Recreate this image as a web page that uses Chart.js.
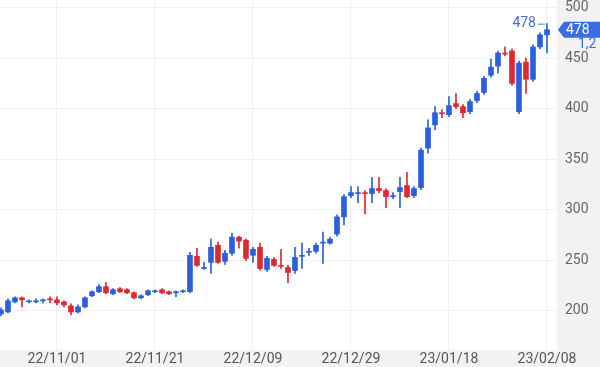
<!DOCTYPE html>
<html>
<head>
<meta charset="utf-8">
<script src="https://cdn.jsdelivr.net/npm/chart.js@4.4.1/dist/chart.umd.min.js"></script>
<style>
  html, body { margin: 0; padding: 0; background: #fff; }
</style>
</head>
<body>
<canvas id="chart" width="600" height="367"></canvas>
<script>
// daily candles (oldest first)
const openP  = [197,199,209,213,209,209,210,212,211,209,205,199,204,215,219,224,217,222,221,218,
                213,216,219,221,219,218,219,219,254,242,248,265,249,257,273,270,255,263,241,251,
                245,243,240,254,258,259,267,267,276,293,314,316,317,316,321,319,313,318,324,314,
                322,361,384,396,394,405,402,397,408,416,433,442,455,457,397,446,429,461,473];
const highP  = [203,212,214,214,211,212,212,214,214,210,207,206,214,220,226,228,222,223,222,219,
                216,221,221,222,220,220,221,258,262,248,271,268,260,277,274,271,263,267,254,253,
                261,245,263,267,262,267,278,273,295,315,323,323,319,332,332,321,317,332,337,323,
                361,389,402,399,412,415,404,409,417,432,449,457,461,459,447,450,463,475,484];
const lowP   = [195,198,208,204,208,208,208,208,206,204,196,198,203,214,218,217,216,218,217,212,
                212,215,218,217,216,214,218,218,244,241,237,247,246,255,262,250,248,240,239,244,
                242,228,237,242,255,257,247,266,274,285,312,307,296,307,317,302,311,302,312,312,
                320,356,379,391,392,400,391,395,406,414,431,435,452,423,395,415,427,459,455];
const closeP = [201,210,213,211,210,210,211,211,208,206,199,204,213,219,224,218,221,219,218,213,
                215,220,220,218,217,219,220,255,245,243,263,248,257,273,269,252,261,242,252,245,
                244,238,253,255,259,265,268,271,293,313,317,317,316,321,319,313,314,322,313,321,
                359,381,396,395,403,402,396,407,415,430,441,455,454,425,445,429,461,473,478];

const tickPos    = [8, 22, 36, 50, 64, 78];
const tickLabels = ['22/11/01', '22/11/21', '22/12/09', '22/12/29', '23/01/18', '23/02/08'];
const yTicks     = [200, 250, 300, 350, 400, 450, 500];
const changeText = '1,2';

const upColor = '#2c5fdc';
const downColor = '#dc2a30';
const idx = openP.map((_, i) => i);
const colors = idx.map(i => closeP[i] >= openP[i] ? upColor : downColor);
const last = idx.length - 1;

// grey strips behind the axes
const axisBg = {
  id: 'axisBg',
  beforeDraw(chart) {
    const { ctx, chartArea: a, width, height } = chart;
    ctx.save();
    ctx.fillStyle = '#f2f2f2';
    ctx.fillRect(a.right, 0, width - a.right, height);
    ctx.fillRect(0, a.bottom, width, height - a.bottom);
    ctx.restore();
  }
};

// last price tag + high marker
const priceTag = {
  id: 'priceTag',
  afterDraw(chart) {
    const { ctx, chartArea: a, width } = chart;
    const xs = chart.scales.x, ys = chart.scales.y;
    const yc = ys.getPixelForValue(closeP[last]);
    ctx.save();
    ctx.fillStyle = '#3a6ee0';
    ctx.beginPath();
    ctx.moveTo(a.right + 1, yc);
    ctx.lineTo(a.right + 7, yc - 8);
    ctx.lineTo(width, yc - 8);
    ctx.lineTo(width, yc + 8);
    ctx.lineTo(a.right + 7, yc + 8);
    ctx.closePath();
    ctx.fill();
    ctx.font = '14px Roboto';
    ctx.textBaseline = 'middle';
    ctx.textAlign = 'left';
    ctx.fillStyle = '#ffffff';
    ctx.fillText(String(closeP[last]), a.right + 9, yc + 1);
    ctx.fillStyle = '#3a6ee0';
    ctx.fillText(changeText, a.right + 21, yc + 15);

    // high marker
    const xh = xs.getPixelForValue(last);
    const yh = ys.getPixelForValue(highP[last]);
    ctx.strokeStyle = '#5a7cc8';
    ctx.lineWidth = 1;
    ctx.beginPath();
    ctx.moveTo(xh - 9, yh + 0.5);
    ctx.lineTo(xh - 2, yh + 0.5);
    ctx.stroke();
    ctx.fillStyle = '#4a6fc4';
    ctx.textAlign = 'right';
    ctx.fillText(String(closeP[last]), xh - 11, yh);
    ctx.restore();
  }
};

new Chart(document.getElementById('chart'), {
  type: 'bar',
  data: {
    datasets: [
      {
        label: 'wick',
        data: idx.map(i => ({ x: i, y: [lowP[i], highP[i]] })),
        backgroundColor: colors,
        barThickness: 1,
        grouped: false,
        order: 2
      },
      {
        label: 'body',
        data: idx.map(i => ({ x: i, y: [openP[i], closeP[i]] })),
        backgroundColor: colors,
        barThickness: 5,
        minBarLength: 1,
        grouped: false,
        order: 1
      }
    ]
  },
  options: {
    responsive: false,
    animation: false,
    devicePixelRatio: 1,
    layout: { padding: 0 },
    plugins: { legend: { display: false }, tooltip: { enabled: false } },
    scales: {
      x: {
        type: 'linear',
        offset: false,
        min: -0.14,
        max: 79.43,
        afterBuildTicks: s => { s.ticks = tickPos.map(v => ({ value: v })); },
        afterFit: s => { s.height = 17; s.paddingLeft = 0; s.paddingRight = 0; },
        ticks: {
          autoSkip: false,
          maxRotation: 0,
          padding: 1,
          color: '#555555',
          font: { family: 'Roboto', size: 14 },
          callback: v => tickLabels[tickPos.indexOf(v)]
        },
        grid: { color: '#efefef', drawTicks: false, offset: false },
        border: { display: false }
      },
      y: {
        position: 'right',
        min: 161.4,
        max: 507.4,
        afterBuildTicks: s => { s.ticks = yTicks.map(v => ({ value: v })); },
        afterFit: s => { s.width = 43; s.paddingTop = 0; s.paddingBottom = 0; },
        ticks: {
          padding: 8,
          color: '#666666',
          font: { family: 'Roboto', size: 14 }
        },
        grid: { color: '#efefef', drawTicks: false },
        border: { display: false }
      }
    }
  },
  plugins: [axisBg, priceTag]
});
</script>
</body>
</html>
